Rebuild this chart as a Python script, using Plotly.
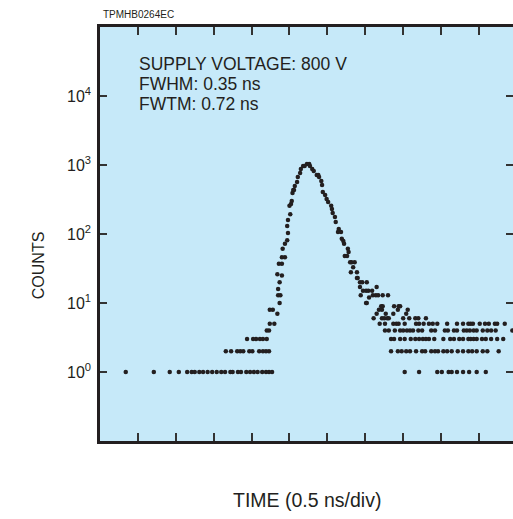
import plotly.graph_objects as go

# ---- data (time in ns, counts) ----
t_c1 = [0.34, 0.71, 0.92, 1.04, 1.15, 1.21, 1.25, 1.31, 1.36, 1.42, 1.48, 1.54, 1.60, 1.65,
        1.72, 1.75, 1.82, 1.86, 1.93, 1.98, 2.03, 2.08, 2.14, 2.19, 2.23, 2.27,
        4.02, 4.21, 4.45, 4.51, 4.60, 4.64, 4.71, 4.79, 4.87, 4.97, 5.09]
t_c2 = [1.66, 1.73, 1.81, 1.85, 1.89, 1.97, 2.01, 2.10, 2.15, 2.19, 2.23,
        3.84, 3.93, 3.98, 4.04, 4.09, 4.17, 4.25, 4.29, 4.37, 4.42, 4.46, 4.53, 4.58,
        4.64, 4.72, 4.79, 4.86, 4.91, 4.97, 5.05, 5.11, 5.26]
t_c3 = [1.94, 2.02, 2.06, 2.11, 2.15, 2.20,
        3.84, 3.88, 3.96, 4.02, 4.10, 4.16, 4.21, 4.26, 4.30, 4.34, 4.41, 4.53, 4.62,
        4.67, 4.74, 4.79, 4.86, 4.89, 4.93, 4.97, 5.04, 5.09, 5.16, 5.24, 5.32]
t_c4 = [2.20, 2.23,
        3.76, 3.81, 3.89, 3.96, 4.00, 4.05, 4.09, 4.13, 4.20, 4.25, 4.37, 4.42, 4.55,
        4.59, 4.67, 4.71, 4.80, 4.84, 4.88, 4.93, 4.97, 5.05, 5.11, 5.16, 5.22, 5.44]
t_c5 = [2.24, 2.30,
        3.69, 3.76, 3.87, 3.91, 3.94, 4.02, 4.17, 4.21, 4.27, 4.34, 4.39, 4.45, 4.58,
        4.71, 4.79, 4.86, 4.89, 4.92, 5.01, 5.08, 5.13, 5.21, 5.24, 5.34]
t_c6 = [3.61, 3.72, 3.75, 3.79, 3.81, 4.00, 4.08, 4.16, 4.20, 4.30]
t_c7 = [2.34, 3.65, 3.77, 3.87, 4.04]
t_c8 = [2.24, 2.28, 3.68, 3.72, 3.93, 4.06]
t_c9 = [3.71, 3.73, 3.88, 3.94, 3.96]

pulse_t = [2.37, 2.35, 2.38, 2.35, 2.37, 2.40, 2.34, 2.36, 2.40, 2.40, 2.44, 2.41, 2.44,
           2.47, 2.48, 2.47, 2.48, 2.51, 2.50, 2.52, 2.53, 2.54, 2.55, 2.56, 2.57, 2.60,
           2.61, 2.64, 2.65, 2.68, 2.70, 2.73, 2.76, 2.77, 2.80, 2.82, 2.86, 2.88, 2.89,
           2.92, 2.93, 2.94, 2.97, 2.99, 3.01, 3.05, 3.06, 3.07, 3.10, 3.11, 3.14, 3.15,
           3.18, 3.19, 3.21, 3.22, 3.23, 3.26, 3.27, 3.28, 3.30, 3.32, 3.36, 3.34, 3.31,
           3.39, 3.39, 3.40, 3.43, 3.46, 3.52, 3.43, 3.65, 3.47, 3.51, 3.54, 3.59, 3.44,
           3.60, 3.64, 3.67, 3.73, 3.80, 3.55, 3.51, 3.52]
pulse_counts = [10, 13, 13, 16, 20, 25, 26, 37, 37, 46, 46, 61, 72,
                81, 103, 131, 159, 194, 256, 272, 300, 393, 433, 433, 496, 567,
                670, 765, 876, 968, 968, 1034, 1034, 968, 876, 818, 716, 716, 670,
                586, 513, 406, 367, 321, 291, 256, 230, 201, 176, 149, 107, 118,
                107, 85, 79, 72, 48, 48, 61, 55, 39, 39, 39, 33, 28,
                28, 23, 23, 20, 20, 20, 17, 17, 15, 15, 15, 15, 13,
                13, 13, 13, 13, 13, 12, 10, 10]

x_ticks = [0.5, 1.0, 1.5, 2.0, 2.5, 3.0, 3.5, 4.0, 4.5, 5.0]
y_ticks = [1, 10, 100, 1000, 10000]
y_tick_text = ["10<sup>0</sup>", "10<sup>1</sup>", "10<sup>2</sup>", "10<sup>3</sup>", "10<sup>4</sup>"]

rows = [(t_c1, 1), (t_c2, 2), (t_c3, 3), (t_c4, 4), (t_c5, 5),
        (t_c6, 6), (t_c7, 7), (t_c8, 8), (t_c9, 9)]
all_t = []
all_c = []
for ts, c in rows:
    all_t += ts
    all_c += [c] * len(ts)
all_t += pulse_t
all_c += pulse_counts

FONT = "Liberation Sans, Arial, Helvetica, sans-serif"
INK = "#231f20"

fig = go.Figure()
fig.add_trace(go.Scatter(x=all_t, y=all_c, mode="markers",
                         marker=dict(size=4.5, color=INK, line=dict(width=0)),
                         showlegend=False, hoverinfo="skip"))
# empty trace to host the right-hand tick axis
fig.add_trace(go.Scatter(x=[], y=[], yaxis="y2", showlegend=False, hoverinfo="skip"))

fig.update_layout(
    width=513, height=519,
    margin=dict(l=100, r=0, t=27, b=78),
    paper_bgcolor="white",
    plot_bgcolor="#c6e9f9",
    font=dict(family=FONT, color=INK, size=16),
    xaxis=dict(range=[0, 5.449], tickvals=x_ticks, showticklabels=False,
               ticks="inside", ticklen=8, tickwidth=1.5, tickcolor="#333",
               showline=True, linecolor=INK, linewidth=2.5, mirror="ticks",
               showgrid=False, zeroline=False),
    yaxis=dict(type="log", range=[-1, 5], tickvals=y_ticks, ticktext=y_tick_text,
               ticks="inside", ticklen=7, tickwidth=1.5, tickcolor="#333",
               showline=True, linecolor=INK, linewidth=2.5, mirror=False,
               showgrid=False, zeroline=False, ticklabelstandoff=3,
               tickfont=dict(size=16, family=FONT, color=INK)),
    yaxis2=dict(type="log", range=[-1, 5], tickvals=y_ticks, overlaying="y", side="right",
                ticks="inside", ticklen=7, tickwidth=1.5, tickcolor="#333",
                showticklabels=False, showline=False, showgrid=False, zeroline=False),
    annotations=[
        dict(text="TPMHB0264EC", xref="paper", yref="paper", x=0.0024, y=1.0314,
             xanchor="left", yanchor="middle", showarrow=False,
             font=dict(size=10, family=FONT, color=INK)),
        dict(text="SUPPLY VOLTAGE: 800 V", xref="paper", yref="paper", x=0.0894, y=0.9106,
             xanchor="left", yanchor="middle", showarrow=False, font=dict(size=17.5)),
        dict(text="FWHM: 0.35 ns", xref="paper", yref="paper", x=0.0894, y=0.8623,
             xanchor="left", yanchor="middle", showarrow=False, font=dict(size=17.5)),
        dict(text="FWTM: 0.72 ns", xref="paper", yref="paper", x=0.0894, y=0.814,
             xanchor="left", yanchor="middle", showarrow=False, font=dict(size=17.5)),
        dict(text="TIME (0.5 ns/div)", xref="paper", yref="paper", x=0.5, y=-0.1425,
             xanchor="center", yanchor="middle", showarrow=False, font=dict(size=19.5)),
        dict(text="COUNTS", xref="paper", yref="paper", x=-0.1498, y=0.425,
             xanchor="center", yanchor="middle", showarrow=False, textangle=-90,
             font=dict(size=16)),
    ],
)

fig.write_html("out.html", config={"displayModeBar": False},
               post_script="document.body.style.margin='0';")
